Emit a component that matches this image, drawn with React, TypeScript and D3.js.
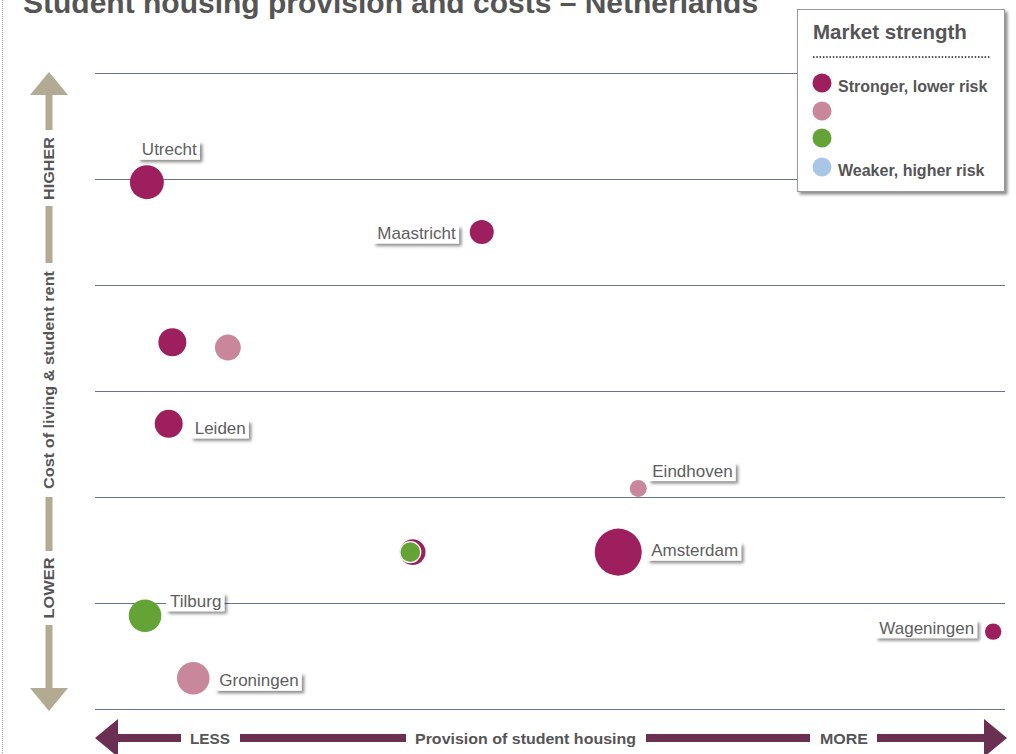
import React, { useEffect, useRef } from "react";
import * as d3 from "d3";

// ---------- data ----------
const cityNames: (string | null)[] = [
  "Utrecht", "Maastricht", null, null, "Leiden", "Eindhoven",
  null, null, "Amsterdam", "Tilburg", "Groningen", "Wageningen",
];
// provision of student housing (0 = less, 100 = more)
const provision = [5.7, 42.5, 8.5, 14.6, 8.1, 59.7, 34.9, 34.65, 57.5, 5.5, 10.8, 98.7];
// cost of living & student rent (0 = lower, 6 = higher)
const costIndex = [4.97, 4.5, 3.46, 3.41, 2.69, 2.08, 1.48, 1.48, 1.48, 0.88, 0.29, 0.73];
// relative market size
const marketSize = [50, 25, 34, 29, 34, 12.5, 29, 19, 96, 46, 46, 11.7];
// market strength class (0 stronger ... 3 weaker)
const strengthClass = [0, 0, 0, 1, 0, 1, 0, 2, 0, 2, 1, 0];

const strengthColors = ["#9e1f5d", "#c8879b", "#64a335", "#a9c6e6"];
const legendLabels = ["Stronger, lower risk", "", "", "Weaker, higher risk"];
const gridTicks = [0, 1, 2, 3, 4, 5, 6];

// label placement (offset from point centre)
const labelPlacement: Record<string, [number, number, string]> = {
  Utrecht: [-5, -27, "start"],
  Maastricht: [-26, 7, "end"],
  Leiden: [26, 10, "start"],
  Eindhoven: [14, -12, "start"],
  Amsterdam: [33, 4, "start"],
  Tilburg: [25, -9, "start"],
  Groningen: [26, 8, "start"],
  Wageningen: [-19, 2, "end"],
};

const W = 1016;
const H = 754;
const FONT = "'Liberation Sans', Arial, Helvetica, sans-serif";

export default function App() {
  const ref = useRef<SVGSVGElement | null>(null);

  useEffect(() => {
    const svg = d3.select(ref.current!);
    svg.selectAll("*").remove();

    const defs = svg.append("defs");
    const f = defs.append("filter").attr("id", "shadow").attr("x", "-20%").attr("y", "-30%").attr("width", "150%").attr("height", "180%");
    f.append("feDropShadow").attr("dx", 2.5).attr("dy", 2.5).attr("stdDeviation", 1.4).attr("flood-color", "#000").attr("flood-opacity", 0.45);

    const x = d3.scaleLinear().domain([0, 100]).range([95, 1005]);
    const y = d3.scaleLinear().domain([0, 6]).range([709, 73]);
    const r = d3.scaleSqrt().domain([0, 100]).range([0, 24]);

    // left dotted border
    svg.append("line").attr("x1", 2.5).attr("x2", 2.5).attr("y1", 0).attr("y2", H)
      .attr("stroke", "#999").attr("stroke-width", 1).attr("stroke-dasharray", "1,1");

    // title
    svg.append("text").attr("x", 23).attr("y", 13).attr("font-family", FONT)
      .attr("font-weight", "bold").attr("font-size", 30).attr("fill", "#555")
      .text("Student housing provision and costs \u2013 Netherlands");

    // grid
    svg.append("g").selectAll("line").data(gridTicks).join("line")
      .attr("x1", 95).attr("x2", 1005)
      .attr("y1", (d) => Math.round(y(d)) + 0.5).attr("y2", (d) => Math.round(y(d)) + 0.5)
      .attr("stroke", "#66768a").attr("stroke-width", 1);

    // Y axis arrow
    const tan = "#b3aa94";
    const ax = 49;
    const ya = svg.append("g");
    ya.append("path").attr("d", `M${ax},72 L${ax + 19},95 L${ax - 19},95 Z`).attr("fill", tan);
    ya.append("path").attr("d", `M${ax},711 L${ax + 19},688 L${ax - 19},688 Z`).attr("fill", tan);
    const ySegs: [number, number][] = [[95, 130], [206, 263], [497, 551], [625, 688]];
    ySegs.forEach(([a, b]) => ya.append("rect").attr("x", ax - 3.5).attr("width", 7).attr("y", a).attr("height", b - a).attr("fill", tan));
    const yTexts: [string, number, number][] = [["HIGHER", 168.5, 63], ["Cost of living & student rent", 380, 218], ["LOWER", 588, 61]];
    yTexts.forEach(([t, cy, len]) => {
      ya.append("text").attr("transform", `translate(${ax + 5},${cy}) rotate(-90)`)
        .attr("text-anchor", "middle").attr("font-family", FONT).attr("font-weight", "bold")
        .attr("font-size", 14.5).attr("fill", "#555").attr("textLength", len).attr("lengthAdjust", "spacingAndGlyphs").text(t);
    });

    // X axis arrow
    const plum = "#6a2f51";
    const xy = 738;
    const xa = svg.append("g");
    xa.append("path").attr("d", `M95,${xy} L118,${xy - 19} L118,${xy + 19} Z`).attr("fill", plum);
    xa.append("path").attr("d", `M1007,${xy} L984,${xy - 19} L984,${xy + 19} Z`).attr("fill", plum);
    const xSegs: [number, number][] = [[118, 181], [240, 406], [646, 810], [877, 984]];
    xSegs.forEach(([a, b]) => xa.append("rect").attr("y", xy - 4).attr("height", 8).attr("x", a).attr("width", b - a).attr("fill", plum));
    const xTexts: [string, number, number][] = [["LESS", 190, 40], ["Provision of student housing", 415, 221], ["MORE", 820, 48]];
    xTexts.forEach(([t, sx, len]) => {
      xa.append("text").attr("x", sx).attr("y", xy + 6).attr("font-family", FONT).attr("font-weight", "bold")
        .attr("font-size", 15.5).attr("fill", "#555").attr("textLength", len).attr("lengthAdjust", "spacingAndGlyphs").text(t);
    });

    // points
    const idx = d3.range(cityNames.length);
    svg.append("g").selectAll("circle").data(idx).join("circle")
      .attr("cx", (i) => x(provision[i])).attr("cy", (i) => y(costIndex[i]))
      .attr("r", (i) => r(marketSize[i]))
      .attr("fill", (i) => strengthColors[strengthClass[i]])
      .attr("stroke", (i) => (i === 7 ? "#fff" : "none")).attr("stroke-width", 1.2);

    // labels
    const lg = svg.append("g");
    idx.forEach((i) => {
      const name = cityNames[i];
      if (!name) return;
      const [dx, dy, anchor] = labelPlacement[name];
      const tx = x(provision[i]) + dx;
      const ty = y(costIndex[i]) + dy;
      const g = lg.append("g");
      const rect = g.append("rect").attr("fill", "#fff").attr("filter", "url(#shadow)");
      const text = g.append("text").attr("x", tx).attr("y", ty).attr("text-anchor", anchor)
        .attr("font-family", FONT).attr("font-size", 17).attr("fill", "#5e5e5e").text(name);
      const bb = (text.node() as SVGTextElement).getBBox();
      rect.attr("x", bb.x - 4).attr("y", ty - 13.5).attr("width", bb.width + 7).attr("height", 18);
    });

    // legend
    const leg = svg.append("g");
    leg.append("rect").attr("x", 797.5).attr("y", 9.5).attr("width", 207).attr("height", 182)
      .attr("fill", "#fff").attr("stroke", "#999").attr("stroke-width", 1).attr("filter", "url(#shadow)");
    leg.append("text").attr("x", 813).attr("y", 39).attr("font-family", FONT).attr("font-weight", "bold")
      .attr("font-size", 20.5).attr("fill", "#555").text("Market strength");
    leg.append("line").attr("x1", 813).attr("x2", 991).attr("y1", 57).attr("y2", 57)
      .attr("stroke", "#555").attr("stroke-width", 2).attr("stroke-dasharray", "1.5,1.8");
    const legY = [83, 111, 138, 167];
    strengthColors.forEach((c, k) => {
      leg.append("circle").attr("cx", 822).attr("cy", legY[k]).attr("r", 9.5).attr("fill", c);
      if (legendLabels[k]) {
        leg.append("text").attr("x", 838).attr("y", legY[k] + 9).attr("font-family", FONT).attr("font-weight", "bold")
          .attr("font-size", 16).attr("fill", "#555").text(legendLabels[k]);
      }
    });
  }, []);

  return (
    <svg ref={ref} width={W} height={H} style={{ position: "absolute", left: 0, top: 0, background: "#fff" }} />
  );
}
